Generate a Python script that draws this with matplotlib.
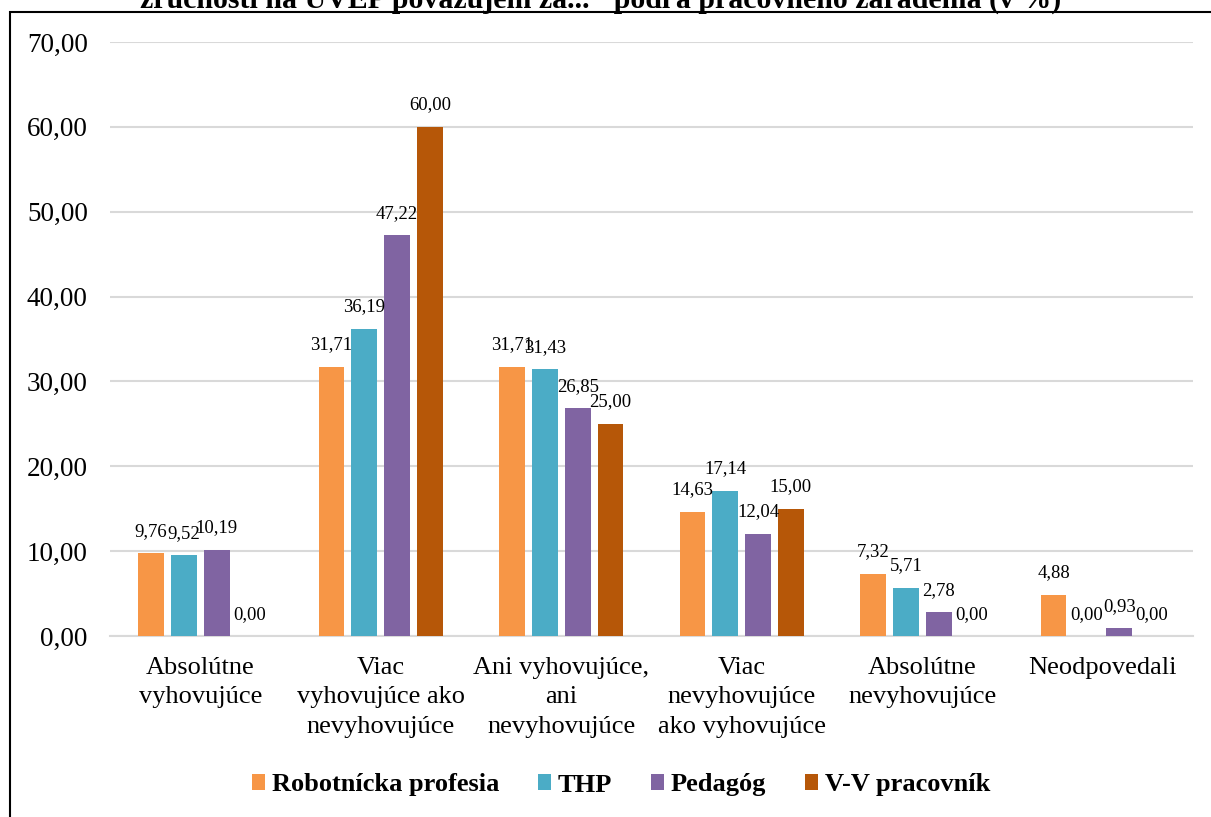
import matplotlib
matplotlib.use("Agg")
import matplotlib.pyplot as plt
import numpy as np
from matplotlib.patches import Rectangle

plt.rcParams['font.family'] = ['Liberation Serif', 'DejaVu Serif']

categories = [
    "Absolútne\nvyhovujúce",
    "Viac\nvyhovujúce ako\nnevyhovujúce",
    "Ani vyhovujúce,\nani\nnevyhovujúce",
    "Viac\nnevyhovujúce\nako vyhovujúce",
    "Absolútne\nnevyhovujúce",
    "Neodpovedali",
]
series_names = ["Robotnícka profesia", "THP", "Pedagóg", "V-V pracovník"]
robotnicka = [9.76, 31.71, 31.71, 14.63, 7.32, 4.88]
thp = [9.52, 36.19, 31.43, 17.14, 5.71, 0.00]
pedagog = [10.19, 47.22, 26.85, 12.04, 2.78, 0.93]
vv_pracovnik = [0.00, 60.00, 25.00, 15.00, 0.00, 0.00]
y_ticks = [0, 10, 20, 30, 40, 50, 60, 70]
title_text = 'zručnosti na ÚVEP považujem za..." podľa pracovného zaradenia (v %)'

colors = ["#F79646", "#4BACC6", "#8064A2", "#B65708"]
series = [robotnicka, thp, pedagog, vv_pracovnik]

fig = plt.figure(figsize=(12.11, 8.17), dpi=100)
ax = fig.add_axes([110 / 1211, 1 - 636 / 817, 1083 / 1211, 594 / 817])

x = np.arange(len(categories))
bar_w = 0.1424
step = 0.1817
offsets = (np.arange(4) - 1.5) * step

for vals, name, col, off in zip(series, series_names, colors, offsets):
    bars = ax.bar(x + off, vals, width=bar_w, color=col, label=name, zorder=3)
    for b, v in zip(bars, vals):
        ax.annotate(f"{v:.2f}".replace(".", ","),
                    (b.get_x() + b.get_width() / 2, v),
                    xytext=(0, 12.5), textcoords="offset points",
                    ha="center", va="baseline", fontsize=13.5, zorder=4)

ax.set_xlim(-0.5, len(categories) - 0.5)
ax.set_ylim(0, 70)
ax.set_yticks(y_ticks)
ax.set_yticklabels([f"{t:.2f}".replace(".", ",") for t in y_ticks], fontsize=19.5)
ax.set_xticks(x)
ax.set_xticklabels(categories, fontsize=19, linespacing=1.45)
ax.tick_params(axis="both", length=0)
ax.tick_params(axis="y", pad=16)
ax.tick_params(axis="x", pad=15)
ax.yaxis.grid(True, color="#D9D9D9", linewidth=1.5, zorder=0)
ax.set_axisbelow(True)
for s in ["top", "right", "left"]:
    ax.spines[s].set_visible(False)
ax.spines["bottom"].set_color("#D9D9D9")
ax.spines["bottom"].set_linewidth(1.5)

leg = fig.legend(loc="center", bbox_to_anchor=(621 / 1211, 1 - 785 / 817),
                 ncol=4, frameon=False,
                 prop={"family": "Liberation Serif", "weight": "bold", "size": 19},
                 handlelength=0.5, handleheight=0.57, handletextpad=0.27,
                 columnspacing=1.45, borderpad=0)

fig.text(601 / 1211, 1 - 8 / 817, title_text, ha="center", va="baseline",
         fontsize=21.5, fontweight="bold")

# outer chart frame
fig.patches.append(Rectangle((9.5 / 1211, -0.1), 1.2, 1.1 - 12 / 817,
                             transform=fig.transFigure, fill=False,
                             edgecolor="black", linewidth=1.5))

fig.savefig("out.png", dpi=100, facecolor="white")
